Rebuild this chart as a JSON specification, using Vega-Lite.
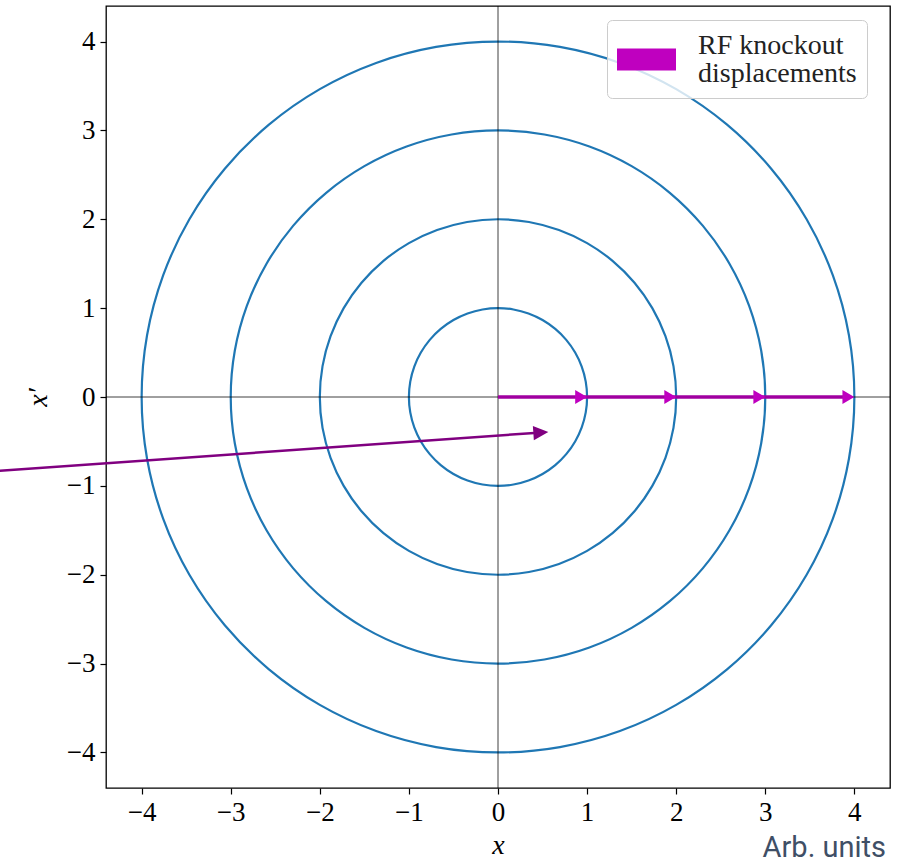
{
"$schema": "https://vega.github.io/schema/vega-lite/v6.json",
"width": 784, "height": 782,
"autosize": {"type": "none"},
"padding": {"left": 106, "top": 6, "right": 14, "bottom": 76},
"background": "white",
"config": {
  "view": {"stroke": "black", "strokeWidth": 1.3},
  "axis": {"domain": false, "grid": false, "ticks": true, "tickColor": "black", "tickSize": 6, "tickWidth": 1.2,
    "labelFont": "Liberation Serif", "labelFontSize": 27, "labelColor": "black", "labelPadding": 5, "labelFlush": false,
    "titleFont": "Liberation Serif", "titleFontSize": 28, "titleFontStyle": "italic", "titleFontWeight": "normal", "titleColor": "black"}
},
"title": {"text": "Arb. units", "orient": "bottom", "anchor": "end", "font": "Roboto", "fontSize": 29, "fontWeight": "normal", "color": "#3f4f66", "offset": -25, "dx": -6},
"datasets": {
"circ": [
{"r":1,"a":0,"x":1,"y":0},{"r":1,"a":10,"x":0.9848,"y":0.1736},{"r":1,"a":20,"x":0.9397,"y":0.342},{"r":1,"a":30,"x":0.866,"y":0.5},{"r":1,"a":40,"x":0.766,"y":0.6428},{"r":1,"a":50,"x":0.6428,"y":0.766},{"r":1,"a":60,"x":0.5,"y":0.866},{"r":1,"a":70,"x":0.342,"y":0.9397},{"r":1,"a":80,"x":0.1736,"y":0.9848},
{"r":1,"a":90,"x":0,"y":1},{"r":1,"a":100,"x":-0.1736,"y":0.9848},{"r":1,"a":110,"x":-0.342,"y":0.9397},{"r":1,"a":120,"x":-0.5,"y":0.866},{"r":1,"a":130,"x":-0.6428,"y":0.766},{"r":1,"a":140,"x":-0.766,"y":0.6428},{"r":1,"a":150,"x":-0.866,"y":0.5},{"r":1,"a":160,"x":-0.9397,"y":0.342},{"r":1,"a":170,"x":-0.9848,"y":0.1736},
{"r":1,"a":180,"x":-1,"y":0},{"r":1,"a":190,"x":-0.9848,"y":-0.1736},{"r":1,"a":200,"x":-0.9397,"y":-0.342},{"r":1,"a":210,"x":-0.866,"y":-0.5},{"r":1,"a":220,"x":-0.766,"y":-0.6428},{"r":1,"a":230,"x":-0.6428,"y":-0.766},{"r":1,"a":240,"x":-0.5,"y":-0.866},{"r":1,"a":250,"x":-0.342,"y":-0.9397},{"r":1,"a":260,"x":-0.1736,"y":-0.9848},
{"r":1,"a":270,"x":0,"y":-1},{"r":1,"a":280,"x":0.1736,"y":-0.9848},{"r":1,"a":290,"x":0.342,"y":-0.9397},{"r":1,"a":300,"x":0.5,"y":-0.866},{"r":1,"a":310,"x":0.6428,"y":-0.766},{"r":1,"a":320,"x":0.766,"y":-0.6428},{"r":1,"a":330,"x":0.866,"y":-0.5},{"r":1,"a":340,"x":0.9397,"y":-0.342},{"r":1,"a":350,"x":0.9848,"y":-0.1736},
{"r":2,"a":0,"x":2,"y":0},{"r":2,"a":10,"x":1.9696,"y":0.3473},{"r":2,"a":20,"x":1.8794,"y":0.684},{"r":2,"a":30,"x":1.7321,"y":1},{"r":2,"a":40,"x":1.5321,"y":1.2856},{"r":2,"a":50,"x":1.2856,"y":1.5321},{"r":2,"a":60,"x":1,"y":1.7321},{"r":2,"a":70,"x":0.684,"y":1.8794},{"r":2,"a":80,"x":0.3473,"y":1.9696},
{"r":2,"a":90,"x":0,"y":2},{"r":2,"a":100,"x":-0.3473,"y":1.9696},{"r":2,"a":110,"x":-0.684,"y":1.8794},{"r":2,"a":120,"x":-1,"y":1.7321},{"r":2,"a":130,"x":-1.2856,"y":1.5321},{"r":2,"a":140,"x":-1.5321,"y":1.2856},{"r":2,"a":150,"x":-1.7321,"y":1},{"r":2,"a":160,"x":-1.8794,"y":0.684},{"r":2,"a":170,"x":-1.9696,"y":0.3473},
{"r":2,"a":180,"x":-2,"y":0},{"r":2,"a":190,"x":-1.9696,"y":-0.3473},{"r":2,"a":200,"x":-1.8794,"y":-0.684},{"r":2,"a":210,"x":-1.7321,"y":-1},{"r":2,"a":220,"x":-1.5321,"y":-1.2856},{"r":2,"a":230,"x":-1.2856,"y":-1.5321},{"r":2,"a":240,"x":-1,"y":-1.7321},{"r":2,"a":250,"x":-0.684,"y":-1.8794},{"r":2,"a":260,"x":-0.3473,"y":-1.9696},
{"r":2,"a":270,"x":0,"y":-2},{"r":2,"a":280,"x":0.3473,"y":-1.9696},{"r":2,"a":290,"x":0.684,"y":-1.8794},{"r":2,"a":300,"x":1,"y":-1.7321},{"r":2,"a":310,"x":1.2856,"y":-1.5321},{"r":2,"a":320,"x":1.5321,"y":-1.2856},{"r":2,"a":330,"x":1.7321,"y":-1},{"r":2,"a":340,"x":1.8794,"y":-0.684},{"r":2,"a":350,"x":1.9696,"y":-0.3473},
{"r":3,"a":0,"x":3,"y":0},{"r":3,"a":10,"x":2.9544,"y":0.5209},{"r":3,"a":20,"x":2.8191,"y":1.0261},{"r":3,"a":30,"x":2.5981,"y":1.5},{"r":3,"a":40,"x":2.2981,"y":1.9284},{"r":3,"a":50,"x":1.9284,"y":2.2981},{"r":3,"a":60,"x":1.5,"y":2.5981},{"r":3,"a":70,"x":1.0261,"y":2.8191},{"r":3,"a":80,"x":0.5209,"y":2.9544},
{"r":3,"a":90,"x":0,"y":3},{"r":3,"a":100,"x":-0.5209,"y":2.9544},{"r":3,"a":110,"x":-1.0261,"y":2.8191},{"r":3,"a":120,"x":-1.5,"y":2.5981},{"r":3,"a":130,"x":-1.9284,"y":2.2981},{"r":3,"a":140,"x":-2.2981,"y":1.9284},{"r":3,"a":150,"x":-2.5981,"y":1.5},{"r":3,"a":160,"x":-2.8191,"y":1.0261},{"r":3,"a":170,"x":-2.9544,"y":0.5209},
{"r":3,"a":180,"x":-3,"y":0},{"r":3,"a":190,"x":-2.9544,"y":-0.5209},{"r":3,"a":200,"x":-2.8191,"y":-1.0261},{"r":3,"a":210,"x":-2.5981,"y":-1.5},{"r":3,"a":220,"x":-2.2981,"y":-1.9284},{"r":3,"a":230,"x":-1.9284,"y":-2.2981},{"r":3,"a":240,"x":-1.5,"y":-2.5981},{"r":3,"a":250,"x":-1.0261,"y":-2.8191},{"r":3,"a":260,"x":-0.5209,"y":-2.9544},
{"r":3,"a":270,"x":0,"y":-3},{"r":3,"a":280,"x":0.5209,"y":-2.9544},{"r":3,"a":290,"x":1.0261,"y":-2.8191},{"r":3,"a":300,"x":1.5,"y":-2.5981},{"r":3,"a":310,"x":1.9284,"y":-2.2981},{"r":3,"a":320,"x":2.2981,"y":-1.9284},{"r":3,"a":330,"x":2.5981,"y":-1.5},{"r":3,"a":340,"x":2.8191,"y":-1.0261},{"r":3,"a":350,"x":2.9544,"y":-0.5209},
{"r":4,"a":0,"x":4,"y":0},{"r":4,"a":10,"x":3.9392,"y":0.6946},{"r":4,"a":20,"x":3.7588,"y":1.3681},{"r":4,"a":30,"x":3.4641,"y":2},{"r":4,"a":40,"x":3.0642,"y":2.5712},{"r":4,"a":50,"x":2.5712,"y":3.0642},{"r":4,"a":60,"x":2,"y":3.4641},{"r":4,"a":70,"x":1.3681,"y":3.7588},{"r":4,"a":80,"x":0.6946,"y":3.9392},
{"r":4,"a":90,"x":0,"y":4},{"r":4,"a":100,"x":-0.6946,"y":3.9392},{"r":4,"a":110,"x":-1.3681,"y":3.7588},{"r":4,"a":120,"x":-2,"y":3.4641},{"r":4,"a":130,"x":-2.5712,"y":3.0642},{"r":4,"a":140,"x":-3.0642,"y":2.5712},{"r":4,"a":150,"x":-3.4641,"y":2},{"r":4,"a":160,"x":-3.7588,"y":1.3681},{"r":4,"a":170,"x":-3.9392,"y":0.6946},
{"r":4,"a":180,"x":-4,"y":0},{"r":4,"a":190,"x":-3.9392,"y":-0.6946},{"r":4,"a":200,"x":-3.7588,"y":-1.3681},{"r":4,"a":210,"x":-3.4641,"y":-2},{"r":4,"a":220,"x":-3.0642,"y":-2.5712},{"r":4,"a":230,"x":-2.5712,"y":-3.0642},{"r":4,"a":240,"x":-2,"y":-3.4641},{"r":4,"a":250,"x":-1.3681,"y":-3.7588},{"r":4,"a":260,"x":-0.6946,"y":-3.9392},
{"r":4,"a":270,"x":0,"y":-4},{"r":4,"a":280,"x":0.6946,"y":-3.9392},{"r":4,"a":290,"x":1.3681,"y":-3.7588},{"r":4,"a":300,"x":2,"y":-3.4641},{"r":4,"a":310,"x":2.5712,"y":-3.0642},{"r":4,"a":320,"x":3.0642,"y":-2.5712},{"r":4,"a":330,"x":3.4641,"y":-2},{"r":4,"a":340,"x":3.7588,"y":-1.3681},{"r":4,"a":350,"x":3.9392,"y":-0.6946}
],
"zero": [{"k":"v","x":0,"y":-4.4},{"k":"v","x":0,"y":4.4},{"k":"h","x":-4.4,"y":0},{"k":"h","x":4.4,"y":0}],
"shaft": [{"x":0,"y":0},{"x":3.95,"y":0}],
"heads": [{"x":1,"y":0,"label":"RF knockout|displacements"},{"x":2,"y":0,"label":"RF knockout|displacements"},{"x":3,"y":0,"label":"RF knockout|displacements"},{"x":4,"y":0,"label":"RF knockout|displacements"}],
"longline": [{"x":-5.6,"y":-0.83},{"x":0.45,"y":-0.402}],
"longhead": [{"x":0.565,"y":-0.394}]
},
"encoding": {
  "x": {"field": "x", "type": "quantitative", "scale": {"domain": [-4.4, 4.4], "nice": false, "zero": false},
        "axis": {"values": [-4,-3,-2,-1,0,1,2,3,4], "title": "x", "titlePadding": 6}},
  "y": {"field": "y", "type": "quantitative", "scale": {"domain": [-4.4, 4.4], "nice": false, "zero": false},
        "axis": {"values": [-4,-3,-2,-1,0,1,2,3,4], "title": "x′", "titlePadding": 14}}
},
"layer": [
  {"data": {"name": "circ"}, "mark": {"type": "line", "color": "#1f77b4", "strokeWidth": 2.2, "interpolate": "cardinal-closed", "tension": 0},
   "encoding": {"detail": {"field": "r", "type": "nominal"}, "order": {"field": "a", "type": "quantitative"}}},
  {"data": {"name": "zero"}, "mark": {"type": "line", "color": "black", "strokeWidth": 1, "opacity": 0.75},
   "encoding": {"detail": {"field": "k", "type": "nominal"}}},
  {"data": {"name": "shaft"}, "mark": {"type": "line", "color": "#a000a0", "strokeWidth": 3.5}, "encoding": {}},
  {"data": {"name": "heads"}, "mark": {"type": "point", "filled": true, "opacity": 1, "size": 196, "shape": "M-1.7,-1L0,0L-1.7,1Z", "strokeWidth": 0},
   "encoding": {"color": {"field": "label", "type": "nominal", "scale": {"range": ["#bf00bf"]},
     "legend": {"title": null, "orient": "none", "legendX": 501, "legendY": 14, "symbolType": "M-1,-0.37H1V0.37H-1Z", "symbolSize": 3481, "symbolStrokeWidth": 0, "symbolOpacity": 1,
       "labelExpr": "split(datum.label, '|')", "labelFont": "Liberation Serif", "labelFontSize": 28, "labelColor": "#222", "labelOffset": 22, "labelLimit": 300,
       "padding": 10, "strokeColor": "#cccccc", "fillColor": "rgba(255,255,255,0.8)", "cornerRadius": 5,
       "encode": {"labels": {"update": {"lineHeight": {"value": 28}, "dy": {"value": -14}}}}}}}},
  {"data": {"name": "longline"}, "mark": {"type": "line", "color": "#800080", "strokeWidth": 2.5, "clip": false}, "encoding": {}},
  {"data": {"name": "longhead"}, "mark": {"type": "point", "filled": true, "opacity": 1, "color": "#800080", "size": 225, "shape": "M-2,-0.95L0,0L-2,0.95Z", "angle": -4, "strokeWidth": 0}, "encoding": {}}
]
}
